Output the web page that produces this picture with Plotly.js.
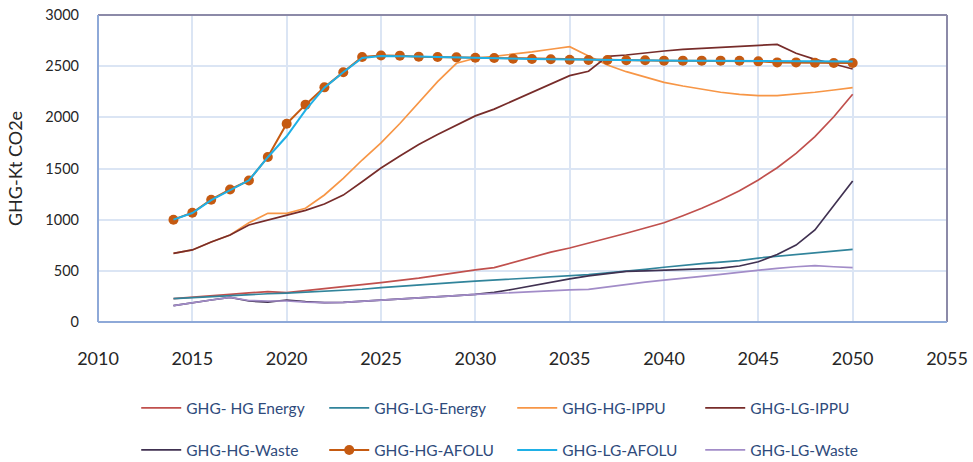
<!DOCTYPE html>
<html>
<head>
<meta charset="utf-8">
<script src="https://cdn.plot.ly/plotly-3.0.1.min.js"></script>
<style>html,body{margin:0;padding:0;background:#fff;}#chart{width:973px;height:462px;}</style>
</head>
<body>
<div id="chart"></div>
<script>
var years = [2014,2015,2016,2017,2018,2019,2020,2021,2022,2023,2024,2025,2026,2027,2028,2029,2030,2031,2032,2033,2034,2035,2036,2037,2038,2039,2040,2041,2042,2043,2044,2045,2046,2047,2048,2049,2050];

var hgEnergy = [228,240,258,270,285,296,287,305,325,345,365,385,405,428,455,485,510,531,583,638,683,723,769,821,867,919,970,1039,1111,1192,1283,1388,1508,1648,1811,2006,2225];
var lgEnergy = [228,238,250,262,270,276,282,290,300,310,320,335,350,362,375,388,400,410,420,430,440,450,462,480,495,515,535,555,570,585,600,625,642,660,675,692,710];
var hgIPPU = [671,704,782,850,970,1062,1062,1111,1241,1404,1583,1750,1940,2143,2349,2528,2577,2596,2616,2639,2665,2691,2599,2511,2446,2391,2342,2306,2274,2245,2225,2212,2212,2225,2245,2267,2290];
var lgIPPU = [671,704,782,850,948,997,1046,1091,1153,1240,1370,1505,1622,1735,1832,1920,2014,2080,2160,2241,2326,2407,2450,2595,2609,2632,2648,2665,2674,2687,2697,2707,2713,2626,2567,2521,2472];
var hgWaste = [160,190,215,240,205,195,215,199,189,192,202,215,225,237,248,258,270,290,320,355,390,422,450,475,495,500,508,515,521,527,547,589,660,752,899,1137,1378];
var hgAFOLU = [1000,1068,1195,1295,1383,1612,1938,2124,2293,2440,2590,2605,2603,2593,2590,2586,2583,2580,2573,2570,2567,2563,2560,2560,2557,2557,2554,2554,2554,2554,2553,2547,2537,2537,2534,2531,2531];
var lgAFOLU = [1000,1065,1190,1290,1385,1610,1815,2070,2290,2440,2580,2600,2600,2595,2590,2585,2580,2578,2575,2570,2568,2565,2562,2560,2558,2556,2555,2554,2553,2552,2551,2550,2549,2548,2547,2546,2545];
var lgWaste = [160,190,215,240,210,205,205,195,189,192,202,215,225,237,248,258,270,280,288,295,305,313,319,345,371,390,410,425,445,465,485,508,525,540,550,540,531];

var seriesNames = ['GHG- HG Energy','GHG-LG-Energy','GHG-HG-IPPU','GHG-LG-IPPU','GHG-HG-Waste','GHG-HG-AFOLU','GHG-LG-AFOLU','GHG-LG-Waste'];
var seriesData = [hgEnergy, lgEnergy, hgIPPU, lgIPPU, hgWaste, hgAFOLU, lgAFOLU, lgWaste];
var seriesColors = ['#c0504d','#31849b','#f79646','#772c2a','#403151','#c55a11','#1fb0e6','#a28cc8'];
var xTicks = [2010,2015,2020,2025,2030,2035,2040,2045,2050,2055];
var yTicks = [0,500,1000,1500,2000,2500,3000];

var traces = seriesNames.map(function(name, i){
  var t = {
    x: years, y: seriesData[i], name: name, type: 'scatter',
    mode: (i === 5) ? 'lines+markers' : 'lines',
    line: {color: seriesColors[i], width: (i === 6 || i === 5) ? 2 : 1.7},
    legend: i < 4 ? 'legend' : 'legend2'
  };
  if (i === 5) t.marker = {color: seriesColors[i], size: 10};
  return t;
});

var legendFont = {family: 'Lato, sans-serif', size: 15.5, color: '#2f4b7c'};
var layout = {
  width: 973, height: 462,
  margin: {l: 98, r: 26, t: 15, b: 140, autoexpand: false},
  paper_bgcolor: '#ffffff', plot_bgcolor: '#ffffff',
  showlegend: true,
  xaxis: {
    range: [2010, 2055], tickvals: xTicks, ticktext: xTicks.map(String),
    showgrid: true, gridcolor: '#dbe5f4', gridwidth: 2,
    zeroline: false, showline: false, ticks: '',
    ticklabelstandoff: 24,
    tickfont: {family: 'Lato, sans-serif', size: 18, color: '#262626'}
  },
  yaxis: {
    range: [0, 3000], tickvals: yTicks, ticktext: yTicks.map(String),
    showgrid: true, gridcolor: '#dbe5f4', gridwidth: 2,
    zeroline: false, showline: false, ticks: '',
    ticklabelstandoff: 18,
    tickfont: {family: 'Lato, sans-serif', size: 14.5, color: '#262626'},
    title: {text: 'GHG-Kt CO2e', font: {family: 'Lato, sans-serif', size: 18, color: '#262626'}, standoff: 18}
  },
  legend: {
    orientation: 'h', xref: 'container', yref: 'container',
    x: 0.14, y: 0.153, xanchor: 'left', yanchor: 'top',
    itemwidth: 40, entrywidth: 133, entrywidthmode: 'pixels', font: legendFont,
    bgcolor: 'rgba(0,0,0,0)', itemclick: false
  },
  legend2: {
    orientation: 'h', xref: 'container', yref: 'container',
    x: 0.14, y: 0.062, xanchor: 'left', yanchor: 'top',
    itemwidth: 40, entrywidth: 133, entrywidthmode: 'pixels', font: legendFont,
    bgcolor: 'rgba(0,0,0,0)', itemclick: false
  },
  shapes: [
    {type: 'line', xref: 'paper', yref: 'paper', x0: 0, x1: 1, y0: 1, y1: 1, line: {color: '#8c8aa8', width: 2}},
    {type: 'line', xref: 'paper', yref: 'paper', x0: 1, x1: 1, y0: 0, y1: 1, line: {color: '#8c8aa8', width: 2}},
    {type: 'line', xref: 'paper', yref: 'paper', x0: 0, x1: 0, y0: 0, y1: 1, line: {color: '#8ea9d8', width: 2}},
    {type: 'line', xref: 'paper', yref: 'paper', x0: 0, x1: 1, y0: 0, y1: 0, line: {color: '#8ea9d8', width: 2}}
  ]
};

Plotly.newPlot('chart', traces, layout, {displayModeBar: false, staticPlot: true});
</script>
</body>
</html>
